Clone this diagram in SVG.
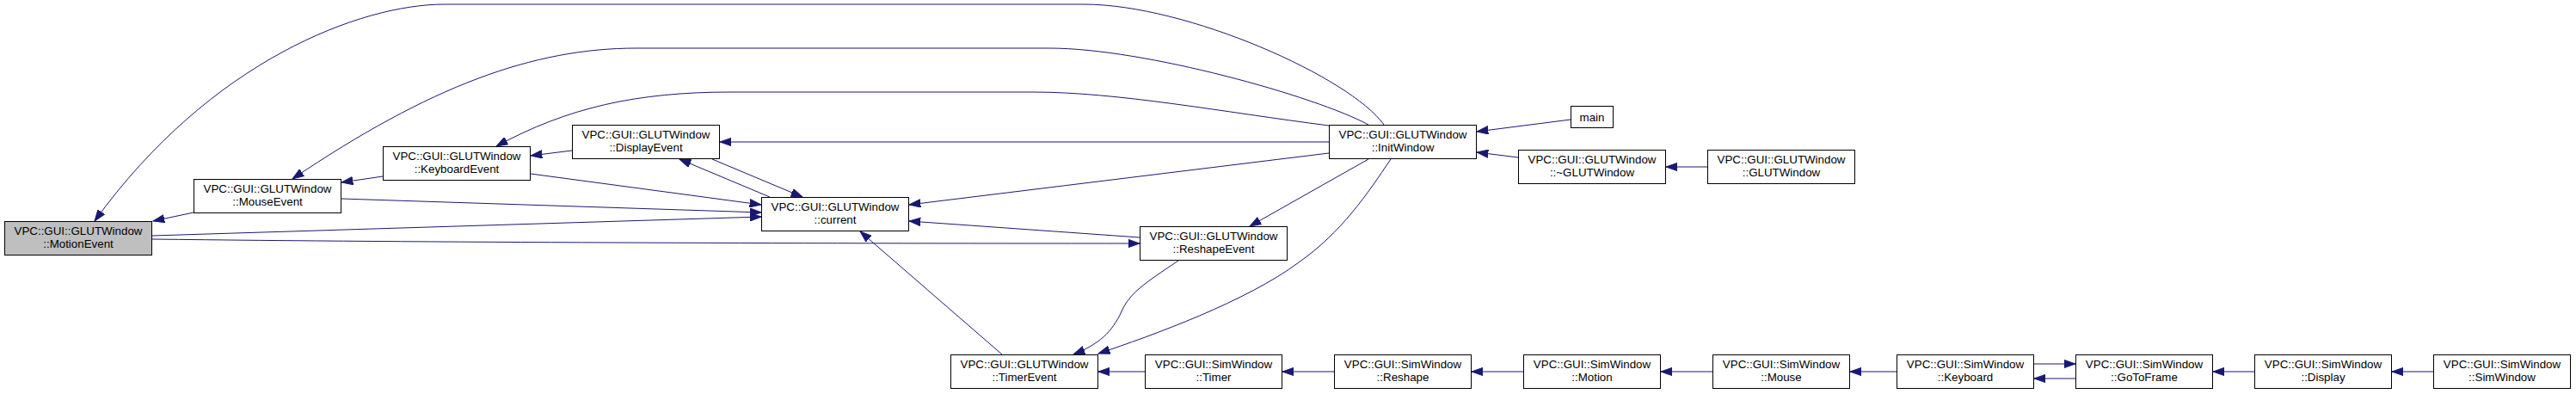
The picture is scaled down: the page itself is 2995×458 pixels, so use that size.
<svg xmlns="http://www.w3.org/2000/svg" width="2995" height="458" viewBox="0 0 2995 458">
<style>
.n rect{fill:#ffffff;stroke:#000000;stroke-width:1}
.n.g rect{fill:#bfbfbf}
.n text{font-family:"Liberation Sans",Arial,Helvetica,sans-serif;font-size:13.33px;fill:#000000;text-anchor:middle}
#edges path{fill:none;stroke:#191970;stroke-width:1;marker-end:url(#a)}
</style>
<defs>
<marker id="a" markerUnits="userSpaceOnUse" markerWidth="14" markerHeight="10" viewBox="0 0 14 10" refX="13.3" refY="5" orient="auto">
<path d="M0,0.3 L13.3,5 L0,9.7 z" fill="#191970" stroke="#191970" stroke-width="1"/>
</marker>
</defs>
<rect x="0" y="0" width="2995" height="458" fill="#ffffff"/>
<g id="edges">
<path d="M225,247 L178,257"/>
<path d="M1609,145 C1570,90 1380,5 1260,5 L517,5 C420,5 245,70 110,257"/>
<path d="M1591,145 C1530,112 1330,56 1220,56 L740,56 C620,56 500,100 340,208"/>
<path d="M1545,146 C1420,130 1300,107 1200,107 L850,107 C740,107 660,125 577,170"/>
<path d="M1545,165 L837,165"/>
<path d="M445,205 L397,212"/>
<path d="M665,175 L617,181"/>
<path d="M895,229 L790,185"/>
<path d="M828,185 L933,229"/>
<path d="M617,202 L885,238"/>
<path d="M397,231 L885,247"/>
<path d="M177,274 L885,252"/>
<path d="M177,278 C500,282 900,283 1325,283"/>
<path d="M1545,178 L1057,238"/>
<path d="M1325,276 L1057,257"/>
<path d="M1591,185 L1453,263"/>
<path d="M1165,412 L1000,269"/>
<path d="M1370,303 C1330,330 1314,340 1304,362 C1293,386 1278,400 1248,412"/>
<path d="M1617,185 C1590,225 1560,270 1510,305 C1450,350 1340,390 1277,411"/>
<path d="M1826,139 L1717,153"/>
<path d="M1765,183 L1717,177"/>
<path d="M1985,194 L1937,194"/>
<path d="M1331,432 L1277,432"/>
<path d="M1551,432 L1491,432"/>
<path d="M1771,432 L1711,432"/>
<path d="M1991,432 L1931,432"/>
<path d="M2205,432 L2151,432"/>
<path d="M2413,440 L2365,440"/>
<path d="M2365,423 L2413,423"/>
<path d="M2621,432 L2573,432"/>
<path d="M2829,432 L2781,432"/>
</g>
<g id="n0" class="n g"><rect x="5.5" y="257.5" width="171" height="39"/><text x="91" y="273">VPC::GUI::GLUTWindow</text><text x="91" y="287.7">::MotionEvent</text></g>
<g id="n1" class="n"><rect x="225.5" y="208.5" width="171" height="39"/><text x="311" y="224">VPC::GUI::GLUTWindow</text><text x="311" y="238.7">::MouseEvent</text></g>
<g id="n2" class="n"><rect x="445.5" y="170.5" width="171" height="39"/><text x="531" y="186">VPC::GUI::GLUTWindow</text><text x="531" y="200.7">::KeyboardEvent</text></g>
<g id="n3" class="n"><rect x="665.5" y="145.5" width="171" height="39"/><text x="751" y="161">VPC::GUI::GLUTWindow</text><text x="751" y="175.7">::DisplayEvent</text></g>
<g id="n4" class="n"><rect x="885.5" y="229.5" width="171" height="39"/><text x="971" y="245">VPC::GUI::GLUTWindow</text><text x="971" y="259.7">::current</text></g>
<g id="n5" class="n"><rect x="1105.5" y="412.5" width="171" height="39"/><text x="1191" y="428">VPC::GUI::GLUTWindow</text><text x="1191" y="442.7">::TimerEvent</text></g>
<g id="n6" class="n"><rect x="1325.5" y="263.5" width="171" height="39"/><text x="1411" y="279">VPC::GUI::GLUTWindow</text><text x="1411" y="293.7">::ReshapeEvent</text></g>
<g id="n7" class="n"><rect x="1545.5" y="145.5" width="171" height="39"/><text x="1631" y="161">VPC::GUI::GLUTWindow</text><text x="1631" y="175.7">::InitWindow</text></g>
<g id="n8" class="n"><rect x="1826.5" y="123.5" width="49" height="25"/><text x="1851" y="140.5">main</text></g>
<g id="n9" class="n"><rect x="1765.5" y="174.5" width="171" height="39"/><text x="1851" y="190">VPC::GUI::GLUTWindow</text><text x="1851" y="204.7">::~GLUTWindow</text></g>
<g id="n10" class="n"><rect x="1985.5" y="174.5" width="171" height="39"/><text x="2071" y="190">VPC::GUI::GLUTWindow</text><text x="2071" y="204.7">::GLUTWindow</text></g>
<g id="n11" class="n"><rect x="1331.5" y="412.5" width="159" height="39"/><text x="1411" y="428">VPC::GUI::SimWindow</text><text x="1411" y="442.7">::Timer</text></g>
<g id="n12" class="n"><rect x="1551.5" y="412.5" width="159" height="39"/><text x="1631" y="428">VPC::GUI::SimWindow</text><text x="1631" y="442.7">::Reshape</text></g>
<g id="n13" class="n"><rect x="1771.5" y="412.5" width="159" height="39"/><text x="1851" y="428">VPC::GUI::SimWindow</text><text x="1851" y="442.7">::Motion</text></g>
<g id="n14" class="n"><rect x="1991.5" y="412.5" width="159" height="39"/><text x="2071" y="428">VPC::GUI::SimWindow</text><text x="2071" y="442.7">::Mouse</text></g>
<g id="n15" class="n"><rect x="2205.5" y="412.5" width="159" height="39"/><text x="2285" y="428">VPC::GUI::SimWindow</text><text x="2285" y="442.7">::Keyboard</text></g>
<g id="n16" class="n"><rect x="2413.5" y="412.5" width="159" height="39"/><text x="2493" y="428">VPC::GUI::SimWindow</text><text x="2493" y="442.7">::GoToFrame</text></g>
<g id="n17" class="n"><rect x="2621.5" y="412.5" width="159" height="39"/><text x="2701" y="428">VPC::GUI::SimWindow</text><text x="2701" y="442.7">::Display</text></g>
<g id="n18" class="n"><rect x="2829.5" y="412.5" width="159" height="39"/><text x="2909" y="428">VPC::GUI::SimWindow</text><text x="2909" y="442.7">::SimWindow</text></g>
</svg>
